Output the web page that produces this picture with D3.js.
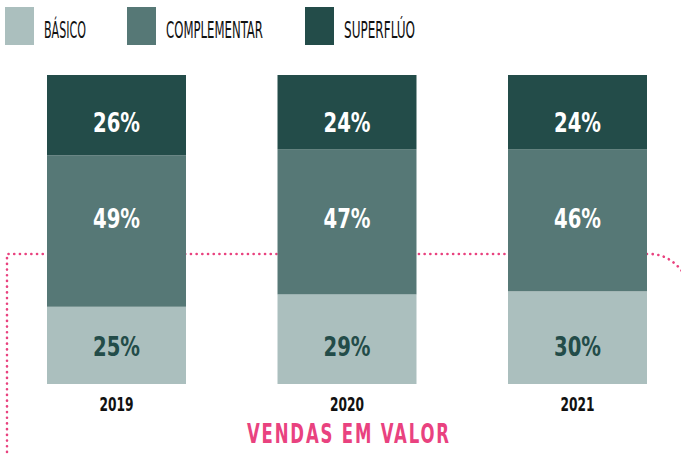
<!DOCTYPE html>
<html>
<head>
<meta charset="utf-8">
<script src="https://cdn.jsdelivr.net/npm/d3@7"></script>
<style>
  body { margin: 0; background: #fff; }
  text { font-family: "DejaVu Sans Condensed", "Liberation Sans", sans-serif; }
</style>
</head>
<body>
<script>
// data
const years = ["2019", "2020", "2021"];
const categories = ["BÁSICO", "COMPLEMENTAR", "SUPERFLÚO"];
const basico = [25, 29, 30];
const complementar = [49, 47, 46];
const superfluo = [26, 24, 24];
const title = "VENDAS EM VALOR";

const colors = ["#abbfbe", "#567876", "#234c49"];
const labelColors = ["#234c49", "#ffffff", "#ffffff"];
const pink = "#e9427f";

const width = 681, height = 455;

const svg = d3.select("body").append("svg")
  .attr("width", width)
  .attr("height", height);

const x = d3.scaleBand().domain(years).range([47, 647]).paddingInner(0.397).paddingOuter(0);
const y = d3.scaleLinear().domain([0, 100]).range([384, 75]);

// dotted line behind the bars
const guideY = 254;
const guide = d3.path();
guide.moveTo(7, 452);
guide.lineTo(7, guideY);
guide.lineTo(650, guideY);
guide.bezierCurveTo(664, guideY, 676, 262, 684, 274);
svg.append("path")
  .attr("d", guide.toString())
  .attr("fill", "none")
  .attr("stroke", pink)
  .attr("stroke-width", 2.6)
  .attr("stroke-linecap", "round")
  .attr("stroke-dasharray", "0.1,5.6");

// stacked data
const rows = years.map((yr, i) => ({year: yr, values: [basico[i], complementar[i], superfluo[i]]}));
const stack = d3.stack().keys([0, 1, 2]).value((d, k) => d.values[k]);
const series = stack(rows);

// labels sit on one row per layer, not centred in each segment
const labelRow = [346, 218, 122];

const layer = svg.selectAll("g.layer")
  .data(series)
  .join("g")
  .attr("class", "layer");

layer.selectAll("rect")
  .data(d => d.map(p => ({p, key: d.key})))
  .join("rect")
  .attr("x", d => x(d.p.data.year))
  .attr("width", x.bandwidth())
  .attr("y", d => y(d.p[1]))
  .attr("height", d => y(d.p[0]) - y(d.p[1]))
  .attr("fill", d => colors[d.key]);

layer.selectAll("text")
  .data(d => d.map(p => ({p, key: d.key})))
  .join("text")
  .attr("x", d => x(d.p.data.year) + x.bandwidth() / 2)
  .attr("y", d => labelRow[d.key] + 10)
  .attr("text-anchor", "middle")
  .attr("font-size", 27)
  .attr("font-weight", "bold")
  .attr("textLength", 47)
  .attr("lengthAdjust", "spacingAndGlyphs")
  .attr("fill", d => labelColors[d.key])
  .text(d => d.p.data.values[d.key] + "%");

// year labels
svg.selectAll("text.year")
  .data(years)
  .join("text")
  .attr("class", "year")
  .attr("x", d => x(d) + x.bandwidth() / 2)
  .attr("y", 411)
  .attr("text-anchor", "middle")
  .attr("font-size", 19)
  .attr("font-weight", "bold")
  .attr("textLength", 34)
  .attr("lengthAdjust", "spacingAndGlyphs")
  .attr("fill", "#111")
  .text(d => d);

// title: narrow glyphs, wide tracking
const squeeze = 0.68;
svg.append("g")
  .attr("transform", `translate(348,443) scale(${squeeze},1)`)
  .append("text")
  .attr("text-anchor", "middle")
  .attr("font-size", 27)
  .attr("font-weight", "bold")
  .attr("textLength", 202 / squeeze)
  .attr("lengthAdjust", "spacing")
  .attr("fill", pink)
  .text(title);

// legend
const legendX = [5, 127, 305];
const legendW = [42, 97, 71];
const legend = svg.selectAll("g.legend")
  .data(categories)
  .join("g")
  .attr("class", "legend")
  .attr("transform", (d, i) => `translate(${legendX[i]},7)`);

legend.append("rect")
  .attr("width", 29)
  .attr("height", 38)
  .attr("fill", (d, i) => colors[i]);

legend.append("text")
  .attr("x", 39)
  .attr("y", 31)
  .attr("font-size", 23)
  .attr("fill", "#111")
  .attr("textLength", (d, i) => legendW[i])
  .attr("lengthAdjust", "spacingAndGlyphs")
  .text(d => d);
</script>
</body>
</html>
